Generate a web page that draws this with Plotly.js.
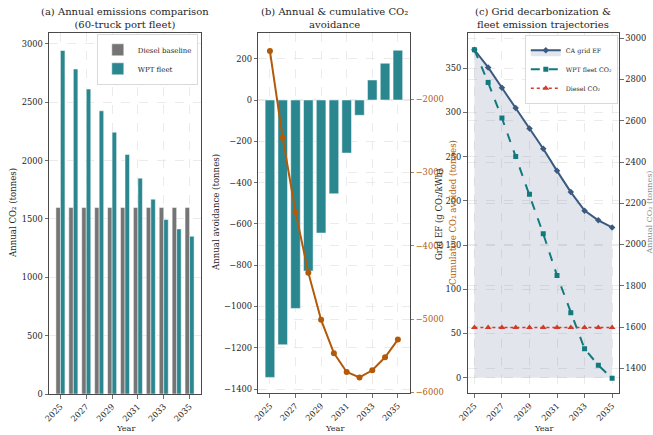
<!DOCTYPE html>
<html>
<head>
<meta charset="utf-8">
<script src="https://cdn.plot.ly/plotly-3.0.1.min.js"></script>
<style>
  html, body { margin: 0; padding: 0; background: #ffffff; }
  #chart { width: 653px; height: 435px; }
</style>
</head>
<body>
<div id="chart"></div>
<script>
// Fleet study years
const years = [2025, 2026, 2027, 2028, 2029, 2030, 2031, 2032, 2033, 2034, 2035];
const yearTicks = [2025, 2027, 2029, 2031, 2033, 2035];

// Annual CO2 of the 60-truck port fleet (tonnes)
const dieselBaseline = [1598, 1598, 1598, 1598, 1598, 1598, 1598, 1598, 1598, 1598, 1598];
const wptFleet = [2944, 2785, 2613, 2427, 2244, 2052, 1850, 1670, 1495, 1415, 1352];

// Avoided CO2 relative to diesel (tonnes)
const annualAvoidance = [-1343, -1185, -1009, -828, -644, -454, -257, -74, 97, 178, 241];
const cumulativeAvoidance = [-1343, -2528, -3537, -4365, -5009, -5463, -5720, -5794, -5697, -5519, -5278];

// California grid emission factor (g CO2/kWh)
const gridEF = [371, 351, 328, 305, 282, 259, 234, 210, 189, 178, 170];

const FONT = 'DejaVu Serif, serif';
const INK = '#262626';
const AXIS = '#4a4a4a';
const GRID = '#e3e3e3';
const TEAL_BAR = '#2a878f';
const GREY_BAR = '#757575';
const ORANGE = '#b35a0a';
const NAVY = '#3b5a80';
const TEAL_LINE = '#127a7d';
const RED = '#d23a2a';

const W = 653, H = 435;
const px = v => v / W;
const py = v => 1 - v / H;

function xAxis(domain, range, anchor) {
  return {
    domain: domain, range: range, anchor: anchor,
    tickvals: yearTicks, tickangle: -45,
    ticks: 'outside', ticklen: 3.5, tickwidth: 0.8, tickcolor: AXIS,
    tickfont: {family: FONT, size: 8.3, color: INK},
    showline: true, linecolor: AXIS, linewidth: 1, mirror: true,
    showgrid: true, gridcolor: GRID, griddash: 'dash', gridwidth: 0.7,
    zeroline: false, automargin: false
  };
}
function yAxis(domain, range, anchor, dtick, extra) {
  return Object.assign({
    domain: domain, range: range, anchor: anchor, dtick: dtick,
    ticks: 'outside', ticklen: 3.5, tickwidth: 0.8, tickcolor: AXIS,
    tickfont: {family: FONT, size: 8.3, color: INK},
    showline: true, linecolor: AXIS, linewidth: 1, mirror: true,
    showgrid: true, gridcolor: GRID, griddash: 'dash', gridwidth: 0.7,
    zeroline: false, automargin: false
  }, extra || {});
}

const yDomA = [py(394), py(33)];
const yDomBC = [py(393.3), py(33.3)];

const traces = [
  // (a) annual emissions comparison
  {type: 'bar', x: years, y: dieselBaseline, name: 'Diesel baseline',
   xaxis: 'x', yaxis: 'y', width: 0.35, offset: -0.35,
   marker: {color: GREY_BAR, line: {color: '#ffffff', width: 0.5}}, legend: 'legend'},
  {type: 'bar', x: years, y: wptFleet, name: 'WPT fleet',
   xaxis: 'x', yaxis: 'y', width: 0.35, offset: 0,
   marker: {color: TEAL_BAR, line: {color: '#ffffff', width: 0.5}}, legend: 'legend'},

  // (b) annual bars and cumulative line
  {type: 'bar', x: years, y: annualAvoidance, name: 'Annual avoidance',
   xaxis: 'x2', yaxis: 'y2', width: 0.75, showlegend: false,
   marker: {color: TEAL_BAR, line: {color: '#ffffff', width: 0.5}}},
  {type: 'scatter', mode: 'lines+markers', x: years, y: cumulativeAvoidance,
   name: 'Cumulative avoidance', xaxis: 'x2', yaxis: 'y3', showlegend: false,
   line: {color: ORANGE, width: 2}, marker: {color: ORANGE, size: 6, symbol: 'circle'}},

  // (c) grid decarbonization and fleet trajectories
  {type: 'scatter', mode: 'lines+markers', x: years, y: gridEF, name: 'CA grid EF',
   xaxis: 'x3', yaxis: 'y4', fill: 'tozeroy', fillcolor: 'rgba(59,90,128,0.15)',
   line: {color: NAVY, width: 2}, marker: {color: NAVY, size: 5, symbol: 'diamond'},
   legend: 'legend2'},
  {type: 'scatter', mode: 'lines+markers', x: years, y: wptFleet, name: 'WPT fleet CO₂',
   xaxis: 'x3', yaxis: 'y5',
   line: {color: TEAL_LINE, width: 2, dash: 'dash'}, marker: {color: TEAL_LINE, size: 5, symbol: 'square'},
   legend: 'legend2'},
  {type: 'scatter', mode: 'lines+markers', x: years, y: dieselBaseline, name: 'Diesel CO₂',
   xaxis: 'x3', yaxis: 'y5',
   line: {color: RED, width: 1.5, dash: 'dot'}, marker: {color: RED, size: 6, symbol: 'triangle-up'},
   legend: 'legend2'}
];

function title(xc, lines) {
  return {xref: 'paper', yref: 'paper', x: px(xc), y: py(4), xanchor: 'center', yanchor: 'top',
          text: lines.join('<br>'), showarrow: false,
          font: {family: FONT, size: 10, color: INK}, align: 'center'};
}
function yLabel(xc, yc, text, color, size) {
  return {xref: 'paper', yref: 'paper', x: px(xc), y: py(yc), xanchor: 'center', yanchor: 'middle',
          text: text, textangle: -90, showarrow: false,
          font: {family: FONT, size: size || 8.6, color: color || INK}};
}
function xLabel(xc, text) {
  return {xref: 'paper', yref: 'paper', x: px(xc), y: py(428), xanchor: 'center', yanchor: 'middle',
          text: text, showarrow: false, font: {family: FONT, size: 8.2, color: INK}};
}

const layout = {
  width: W, height: H,
  margin: {l: 0, r: 0, t: 0, b: 0},
  paper_bgcolor: '#ffffff', plot_bgcolor: '#ffffff',
  barmode: 'overlay',
  font: {family: FONT, color: INK},

  xaxis: xAxis([px(49), px(201)], [2024.115, 2035.885], 'y'),
  yaxis: yAxis(yDomA, [0, 3094], 'x', 500),

  xaxis2: xAxis([px(258.3), px(409.5)], [2024.09, 2035.91], 'y2'),
  yaxis2: yAxis(yDomBC, [-1420, 323], 'x2', 200),
  yaxis3: yAxis(yDomBC, [-6011, -1100], 'x2', 1000, {
    overlaying: 'y2', side: 'right', showline: false, mirror: false,
    tickcolor: ORANGE, tickfont: {family: FONT, size: 8.3, color: ORANGE}
  }),

  xaxis3: xAxis([px(467.5), px(619)], [2024.5, 2035.5], 'y4'),
  yaxis4: yAxis(yDomBC, [-17.6, 389.6], 'x3', 50),
  yaxis5: yAxis(yDomBC, [1279, 3024], 'x3', 200, {
    overlaying: 'y4', side: 'right', showline: false, mirror: false
  }),

  legend: {x: px(198), y: py(34.5), xanchor: 'right', yanchor: 'top',
           bgcolor: '#ffffff', bordercolor: '#cfcfcf', borderwidth: 0.8,
           font: {family: FONT, size: 7, color: INK}},
  legend2: {x: px(618), y: py(35), xanchor: 'right', yanchor: 'top',
            bgcolor: '#ffffff', bordercolor: '#cfcfcf', borderwidth: 0.8,
            font: {family: FONT, size: 6.3, color: INK}},

  annotations: [
    title(125, ['(a) Annual emissions comparison', '(60-truck port fleet)']),
    title(334, ['(b) Annual &amp; cumulative CO₂', 'avoidance']),
    title(543, ['(c) Grid decarbonization &amp;', 'fleet emission trajectories']),
    yLabel(13, 213, 'Annual CO₂ (tonnes)'),
    yLabel(216, 213, 'Annual avoidance (tonnes)'),
    yLabel(453, 213, 'Cumulative CO₂ avoided (tonnes)', ORANGE),
    yLabel(439, 215, 'Grid EF (g CO₂/kWh)'),
    yLabel(648.5, 213, 'Annual CO₂ (tonnes)', '#8a8a8a', 8),
    xLabel(125, 'Year'),
    xLabel(334, 'Year'),
    xLabel(543, 'Year')
  ],
  showlegend: true
};

Plotly.newPlot('chart', traces, layout, {displayModeBar: false, staticPlot: true});
</script>
</body>
</html>
